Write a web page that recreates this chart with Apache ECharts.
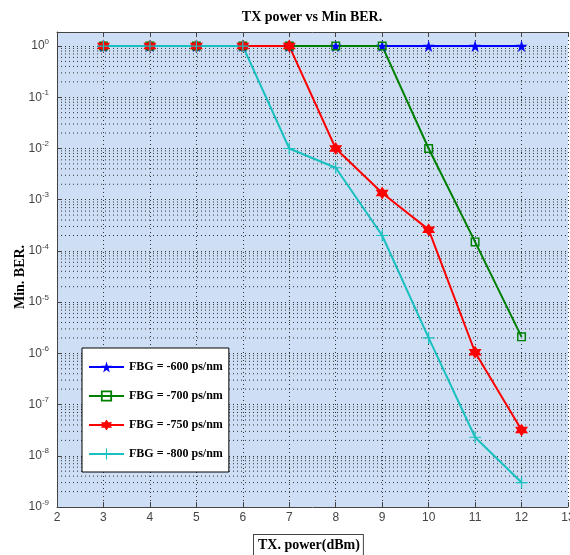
<!DOCTYPE html>
<html>
<head>
<meta charset="utf-8">
<script src="https://cdn.jsdelivr.net/npm/echarts@6/dist/echarts.min.js"></script>
<style>
  html, body { margin: 0; padding: 0; background: #fff; }
  #chart { width: 570px; height: 555px; }
</style>
</head>
<body>
<div id="chart"></div>
<script>
// TX power (dBm)
var txPower = [3, 4, 5, 6, 7, 8, 9, 10, 11, 12];
// min BER per FBG dispersion
var fbg600 = [1, 1, 1, 1, 1, 1, 1, 1, 1, 1];
var fbg700 = [1, 1, 1, 1, 1, 1, 1, 1e-2, 1.5e-4, 2.1e-6];
var fbg750 = [1, 1, 1, 1, 1, 1e-2, 1.35e-3, 2.6e-4, 1.05e-6, 3.2e-8];
var fbg800 = [1, 1, 1, 1, 1e-2, 4.2e-3, 2e-4, 2e-6, 2.3e-8, 3e-9];
var legendNames = ['FBG = -600 ps/nm', 'FBG = -700 ps/nm', 'FBG = -750 ps/nm', 'FBG = -800 ps/nm'];
var decades = [-9, -8, -7, -6, -5, -4, -3, -2, -1];
var minorSteps = [2, 3, 4, 5, 6, 7, 8, 9];

var serif = '"Liberation Serif", "Times New Roman", serif';
var sans = '"Liberation Sans", Arial, sans-serif';

var starPath = 'path://M50,0 L61,35 L98,35 L68,57 L79,91 L50,70 L21,91 L32,57 L2,35 L39,35 Z';
var hexPath = 'path://M50,0 L64,25 L93,25 L79,50 L93,75 L64,75 L50,100 L36,75 L7,75 L21,50 L7,25 L36,25 Z';
var plusPath = 'path://M45,0 H55 V45 H100 V55 H55 V100 H45 V55 H0 V45 H45 Z';
var squarePath = 'path://M0,0 H100 V100 H0 Z M16,16 V84 H84 V16 Z';

function pairs(ys) {
  return txPower.map(function (x, i) { return [x, ys[i]]; });
}

// minor log grid lines (2..9 x 10^k)
var minorLines = [];
decades.forEach(function (d) {
  minorSteps.forEach(function (m) {
    minorLines.push([2, m * Math.pow(10, d)]);
  });
});

function lineSeries(name, ys, color, symbol, size) {
  return {
    name: name,
    type: 'line',
    data: pairs(ys),
    z: 3,
    symbol: symbol,
    symbolSize: size,
    lineStyle: { color: color, width: 2 },
    itemStyle: { color: color },
    emphasis: { disabled: true },
    animation: false
  };
}

var chart = echarts.init(document.getElementById('chart'));
chart.setOption({
  backgroundColor: '#fff',
  animation: false,
  legend: {
    orient: 'vertical',
    left: 82,
    top: 348,
    padding: [13, 6, 12, 6],
    itemWidth: 35,
    itemHeight: 14,
    itemGap: 17,
    backgroundColor: '#fff',
    borderColor: '#000',
    borderWidth: 1,
    textStyle: { fontFamily: serif, fontWeight: 'bold', fontSize: 12, color: '#000' },
    data: legendNames
  },
  grid: {
    left: 57,
    right: 2,
    top: 32,
    bottom: 48,
    outerBoundsMode: 'none',
    containLabel: false,
    show: true,
    backgroundColor: '#cedef4',
    borderWidth: 0
  },
  xAxis: [{
    type: 'value',
    min: 2,
    max: 13,
    interval: 1,
    axisLine: { show: true, onZero: false, lineStyle: { color: '#444' } },
    axisTick: { inside: true, length: 5, lineStyle: { color: '#444' } },
    axisLabel: { fontFamily: sans, fontSize: 12, color: '#444', margin: 5 },
    splitLine: { show: true, lineStyle: { color: '#333', type: [1, 3], width: 1 } }
  }, {
    type: 'value',
    position: 'top',
    min: 2,
    max: 13,
    interval: 1,
    axisLine: { show: true, lineStyle: { color: '#444' } },
    axisTick: { inside: true, length: 5, lineStyle: { color: '#444' } },
    axisLabel: { show: false },
    splitLine: { show: false }
  }],
  yAxis: {
    type: 'log',
    logBase: 10,
    min: 1e-9,
    max: 1.88,
    splitNumber: 10,
    axisLine: { show: true, lineStyle: { color: '#444' } },
    axisTick: { inside: true, length: 5, lineStyle: { color: '#444' } },
    axisLabel: {
      margin: 8,
      formatter: function (v) {
        var lg = Math.log10(v);
        var e = Math.round(lg);
        if (Math.abs(lg - e) > 1e-6) return '';
        return '{b|10}{s|' + e + '}';
      },
      rich: {
        b: { fontFamily: sans, fontSize: 12, color: '#444' },
        s: { fontFamily: sans, fontSize: 8, color: '#444', padding: [0, 0, 9, 0] }
      }
    },
    splitLine: { show: true, lineStyle: { color: '#333', type: [1, 3], width: 1 } }
  },
  graphic: [{
    type: 'text',
    x: 312,
    y: 10,
    style: {
      text: 'TX power vs Min BER.',
      font: 'bold 14px ' + serif,
      fill: '#000',
      align: 'center'
    }
  }, {
    type: 'text',
    x: 20,
    y: 277,
    rotation: Math.PI / 2,
    style: {
      text: 'Min. BER.',
      font: 'bold 14px ' + serif,
      fill: '#000',
      align: 'center',
      verticalAlign: 'middle'
    }
  }, {
    type: 'text',
    left: 253,
    top: 534,
    style: {
      text: 'TX. power(dBm)',
      font: 'bold 14px ' + serif,
      fill: '#000',
      backgroundColor: '#fff',
      borderColor: '#444',
      borderWidth: 1,
      padding: [3, 3, 3, 4]
    }
  }],
  series: [
    {
      type: 'custom',
      silent: true,
      z: 1,
      data: minorLines,
      renderItem: function (params, api) {
        var cs = params.coordSys;
        var y = api.coord([api.value(0), api.value(1)])[1];
        return {
          type: 'line',
          shape: { x1: cs.x, y1: y, x2: cs.x + cs.width, y2: y },
          style: { stroke: '#333', lineWidth: 1, lineDash: [1, 3] }
        };
      }
    },
    lineSeries(legendNames[0], fbg600, '#0000ff', starPath, 12),
    lineSeries(legendNames[1], fbg700, '#008000', squarePath, 9),
    lineSeries(legendNames[2], fbg750, '#ff0000', hexPath, 13),
    lineSeries(legendNames[3], fbg800, '#19c0c0', plusPath, 12)
  ]
});
</script>
</body>
</html>
